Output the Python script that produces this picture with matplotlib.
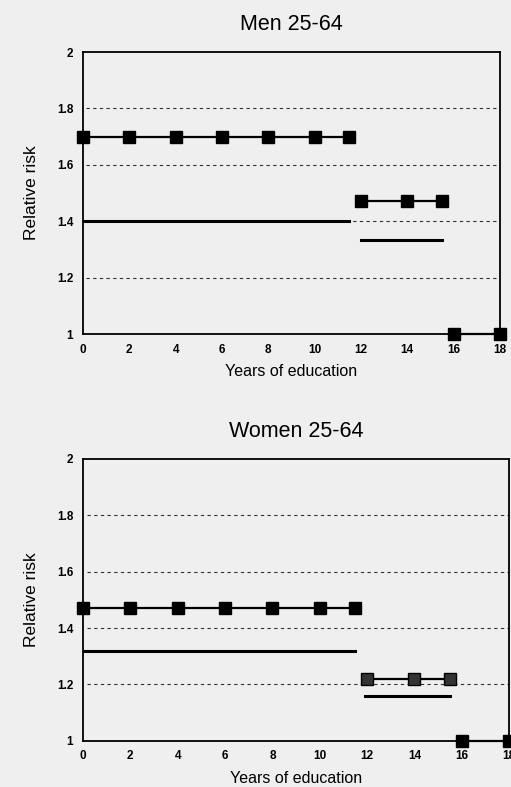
import matplotlib.pyplot as plt

plt.rcParams['font.family'] = ['Liberation Sans', 'DejaVu Sans']

# education years for the three marker groups and the two plain lines
mk_x1 = [0, 2, 4, 6, 8, 10, 11.5]
mk_x2 = [12, 14, 15.5]
mk_x3 = [16, 18]
ln_x1 = [0, 11.5]
ln_x2 = [12, 15.5]

men_mk = [1.70, 1.47, 1.00]
men_ln = [1.40, 1.335]
women_mk = [1.47, 1.22, 1.00]
women_ln = [1.32, 1.16]
women_ln_x2 = [11.9, 15.5]

xticks = [0, 2, 4, 6, 8, 10, 12, 14, 16, 18]
yticks = [1, 1.2, 1.4, 1.6, 1.8, 2]
ylabels = ['1', '1.2', '1.4', '1.6', '1.8', '2']

bg = '#efefef'
fig = plt.figure(figsize=(5.11, 7.87), dpi=100, facecolor=bg)

def panel(rect, title, mk, ln, ln2x, mid_color):
    ax = fig.add_axes(rect, facecolor=bg)
    for g in [1.2, 1.4, 1.6, 1.8]:
        ax.plot([0.15, 18], [g, g], color='#333333', lw=0.8,
                ls=(0, (3, 3)), zorder=1)
    ax.plot(ln_x1, [ln[0]] * 2, color='black', lw=2.2, zorder=2)
    ax.plot(ln2x, [ln[1]] * 2, color='black', lw=2.2, zorder=2)
    for xs, y, c in [(mk_x1, mk[0], 'black'), (mk_x2, mk[1], mid_color),
                     (mk_x3, mk[2], 'black')]:
        ax.plot(xs, [y] * len(xs), color='black', lw=1.6, marker='s',
                ms=8.5, mfc=c, mec='black', clip_on=False, zorder=3)
    ax.set_xlim(0, 18)
    ax.set_ylim(1, 2)
    ax.set_xticks(xticks)
    ax.set_xticklabels([str(t) for t in xticks], fontsize=8.5, fontweight='bold')
    ax.set_yticks(yticks)
    ax.set_yticklabels(ylabels, fontsize=8.5, fontweight='bold')
    ax.tick_params(length=0, pad=7)
    for s in ax.spines.values():
        s.set_linewidth(1.3)
    ax.set_title(title, fontsize=15.5, pad=16)
    ax.set_xlabel('Years of education', fontsize=11.5, labelpad=6)
    ax.set_ylabel('Relative risk', fontsize=12.5, labelpad=13)
    return ax

panel([0.1624, 0.5756, 0.816, 0.3583], 'Men 25-64', men_mk, men_ln, ln_x2, 'black')
panel([0.1624, 0.0588, 0.834, 0.358], 'Women 25-64', women_mk, women_ln,
      women_ln_x2, '#333333')

fig.savefig('out.png', dpi=100, facecolor=bg)
